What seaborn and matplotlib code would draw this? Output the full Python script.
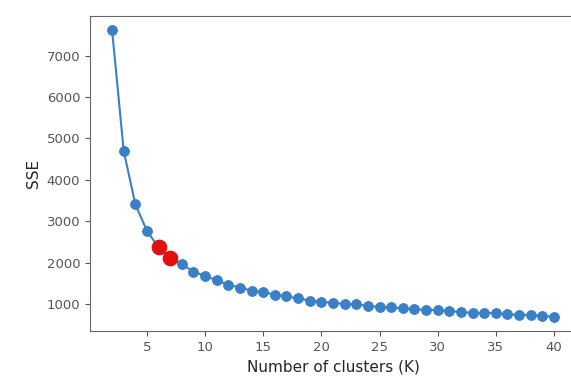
import numpy as np
import pandas as pd
import seaborn as sns
import matplotlib.pyplot as plt

sns.set_style("ticks")
plt.rcParams['font.family'] = ['DejaVu Sans']

# SSE per number of clusters
k_values = list(range(2, 41))
sse_values = [7610, 4700, 3410, 2770, 2370, 2110, 1960, 1790, 1680, 1580,
              1470, 1400, 1330, 1290, 1230, 1190, 1140, 1090, 1060, 1030,
              1010, 995, 960, 935, 925, 900, 875, 870, 860, 835,
              815, 790, 790, 785, 755, 745, 740, 715, 700]
# the two highlighted candidates
best_k = [6, 7]

df = pd.DataFrame({'k': k_values, 'sse': sse_values})
hl = df[df['k'].isin(best_k)]

fig = plt.figure(figsize=(5.71, 3.89), dpi=100)
ax = fig.add_axes([90 / 571, 58 / 389, 486 / 571, 315 / 389])

sns.lineplot(data=df, x='k', y='sse', marker='o', markersize=7,
             color='#3a80c6', markeredgecolor='#3a80c6', linewidth=1.5, ax=ax)
sns.scatterplot(data=hl, x='k', y='sse', color='#e01010', s=110,
                edgecolor='#e01010', zorder=5, ax=ax)

ax.set_xticks([5, 10, 15, 20, 25, 30, 35, 40])
ax.set_yticks([1000, 2000, 3000, 4000, 5000, 6000, 7000])
ax.set_xlabel('Number of clusters (K)', fontsize=11)
ax.set_ylabel('SSE', fontsize=11)
ax.tick_params(labelsize=9.5, colors='#555555', labelcolor='#555555')
for s in ax.spines.values():
    s.set_color('#666666')
ax.spines['right'].set_visible(False)  # cropped off in the original

fig.savefig('out.png', dpi=100)
